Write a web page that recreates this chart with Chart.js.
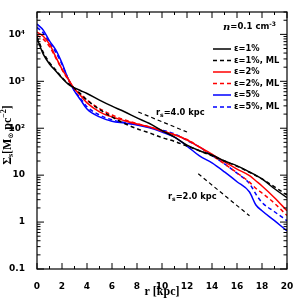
<!DOCTYPE html>
<html><head><meta charset="utf-8">
<script src="https://cdn.jsdelivr.net/npm/chart.js@4/dist/chart.umd.min.js"></script>
<style>html,body{margin:0;padding:0;background:#fff;}canvas{display:block;}</style>
</head><body>
<canvas id="c" width="299" height="299"></canvas>
<script>
// radius grid [kpc]
const rKpc = [0,0.5,1,1.5,2,2.5,3,3.5,4,5,6,7,8,9,10,11,12,13,14,15,16,17,17.5,18,19,20];
// surface density [Msun pc^-2]
const sigmaEps1    = [8300,3800,2340,1660,1175,871,724,631,550,398,295,224,166,126,89.1,64.6,43.6,33.1,26.9,20.0,15.8,11.7,10.0,8.32,5.13,3.31];
const sigmaEps1ML  = [8900,4170,2510,1740,1200,891,708,537,398,251,174,126,97.7,79.4,63.1,52.5,41.7,33.1,25.7,20.0,15.5,11.5,9.77,8.32,5.62,3.80];
const sigmaEps2    = [11200,9120,6170,3310,1820,1120,692,490,347,224,174,145,123,107,87.1,72.4,56.2,39.8,28.2,19.1,13.5,9.77,7.59,5.89,3.31,1.74];
const sigmaEps2ML  = [9550,7940,5500,3160,1780,1070,692,525,398,263,191,151,126,107,89.1,72.4,57.5,39.8,26.3,17.4,11.2,7.08,5.25,4.17,2.51,1.38];
const sigmaEps5    = [16600,12300,7240,4680,2450,1120,617,398,257,174,141,129,117,102,83.2,64.6,41.7,25.7,18.2,11.7,7.24,4.37,2.34,1.74,1.07,0.65];
const sigmaEps5ML  = [14100,10700,6610,4170,2290,1120,631,427,288,191,151,132,120,105,91.2,75.9,55.0,39.8,26.3,17.4,11.0,6.61,3.98,2.63,1.66,1.07];
// exponential guide lines
const rs4R = [8.1, 12.0];
const rs4Sigma = [222, 83];
const rs2R = [12.9, 17.0];
const rs2Sigma = [10.7, 1.36];
// ticks
const yTickValues = [0.1, 1, 10, 100, 1000, 10000];
const yTickLabels = ['0.1', '1', '10', '10²', '10³', '10⁴'];
const seriesLabels = ['ε=1%', 'ε=1%, ML', 'ε=2%', 'ε=2%, ML', 'ε=5%', 'ε=5%, ML'];

const pts = (xs, ys) => xs.map((x, i) => ({x: x, y: ys[i]}));
const DASH = [4, 3];
function ser(label, arr, color, dashed) {
  return {label: label, data: pts(rKpc, arr), borderColor: color, backgroundColor: color,
    borderWidth: 1.5, borderDash: dashed ? DASH : [], pointRadius: 0, fill: false,
    cubicInterpolationMode: 'monotone', isSeries: true};
}
const datasets = [
  ser(seriesLabels[0], sigmaEps1, '#000000', false),
  ser(seriesLabels[1], sigmaEps1ML, '#000000', true),
  ser(seriesLabels[2], sigmaEps2, '#ff0000', false),
  ser(seriesLabels[3], sigmaEps2ML, '#ff0000', true),
  ser(seriesLabels[4], sigmaEps5, '#0000ff', false),
  ser(seriesLabels[5], sigmaEps5ML, '#0000ff', true),
  {label: 'rs4', data: pts(rs4R, rs4Sigma), borderColor: '#000', borderWidth: 1.2, borderDash: [4, 3], pointRadius: 0},
  {label: 'rs2', data: pts(rs2R, rs2Sigma), borderColor: '#000', borderWidth: 1.2, borderDash: [4, 3], pointRadius: 0}
];

function drawRuns(ctx, runs, x, y) {
  let total = 0;
  runs.forEach(r => { ctx.font = r.font; r.w = ctx.measureText(r.t).width; total += r.w; });
  let cx = x - total / 2;
  ctx.textBaseline = 'middle'; ctx.textAlign = 'left';
  runs.forEach(r => { ctx.font = r.font; ctx.fillText(r.t, cx, y + (r.dy || 0)); cx += r.w; });
}
function drawRunsLeft(ctx, runs, x, y) {
  let cx = x;
  ctx.textBaseline = 'middle'; ctx.textAlign = 'left';
  runs.forEach(r => { ctx.font = r.font; ctx.fillText(r.t, cx, y + (r.dy || 0)); cx += ctx.measureText(r.t).width; });
}

const decor = {
  id: 'decor',
  afterDraw(chart) {
    const ctx = chart.ctx, a = chart.chartArea;
    const xs = chart.scales.x, ys = chart.scales.y;
    ctx.save();
    ctx.strokeStyle = '#000'; ctx.fillStyle = '#000'; ctx.lineWidth = 1.2; ctx.setLineDash([]);
    ctx.strokeRect(a.left, a.top, a.right - a.left, a.bottom - a.top);
    ctx.lineWidth = 1;
    ctx.beginPath();
    for (let r = 0; r <= 20; r += 1) {
      const px = xs.getPixelForValue(r);
      const L = (r % 2 === 0) ? 6 : 3;
      ctx.moveTo(px, a.bottom); ctx.lineTo(px, a.bottom - L);
      ctx.moveTo(px, a.top); ctx.lineTo(px, a.top + L);
    }
    for (let e = -1; e <= 4; e++) {
      for (let m = 1; m <= 9; m++) {
        const v = m * Math.pow(10, e);
        if (v < 0.1 || v > 30000) continue;
        const py = ys.getPixelForValue(v);
        const L = (m === 1) ? 7 : 3.5;
        ctx.moveTo(a.left, py); ctx.lineTo(a.left + L, py);
        ctx.moveTo(a.right, py); ctx.lineTo(a.right - L, py);
      }
    }
    ctx.stroke();

    // legend
    const lf = 'bold 8.3px "DejaVu Sans"';
    drawRunsLeft(ctx, [
      {t: 'n', font: 'italic bold 10px "DejaVu Serif"'},
      {t: '=0.1 cm', font: 'bold 8.5px "DejaVu Sans"'},
      {t: '-3', font: 'bold 6px "DejaVu Sans"', dy: -3}
    ], 223, 27);
    const rowY = [49, 60.5, 72, 83.5, 95, 107];
    chart.data.datasets.filter(d => d.isSeries).forEach((d, i) => {
      ctx.strokeStyle = d.borderColor; ctx.lineWidth = 1.5;
      ctx.setLineDash(d.borderDash);
      ctx.beginPath(); ctx.moveTo(213, rowY[i]); ctx.lineTo(231, rowY[i]); ctx.stroke();
      ctx.setLineDash([]);
      ctx.fillStyle = '#000'; ctx.font = lf; ctx.textBaseline = 'middle'; ctx.textAlign = 'left';
      ctx.fillText(d.label, 234, rowY[i]);
    });

    // guide-line labels
    const af = 'bold 8.3px "DejaVu Sans"', sf = 'bold 6px "DejaVu Sans"';
    drawRunsLeft(ctx, [{t: 'r', font: af}, {t: 's', font: sf, dy: 2}, {t: '=4.0 kpc', font: af}], 156, 113);
    drawRunsLeft(ctx, [{t: 'r', font: af}, {t: 's', font: sf, dy: 2}, {t: '=2.0 kpc', font: af}], 168, 197);

    // axis titles
    ctx.fillStyle = '#000';
    drawRuns(ctx, [{t: 'r [kpc]', font: 'bold 12px "Liberation Serif"'}], (a.left + a.right) / 2, 292);
    ctx.save();
    ctx.translate(8, 135); ctx.rotate(-Math.PI / 2);
    const tf = 'bold 12px "Liberation Serif"', tsf = 'bold 8px "Liberation Serif"';
    drawRuns(ctx, [
      {t: 'Σ', font: tf}, {t: 's', font: tsf, dy: 3}, {t: '[M', font: tf}, {t: '⊙', font: 'bold 7px "DejaVu Sans"', dy: 3},
      {t: ' pc', font: tf}, {t: '−2', font: tsf, dy: -4}, {t: ']', font: tf}
    ], 0, 0);
    ctx.restore();
    ctx.restore();
  }
};

new Chart(document.getElementById('c'), {
  type: 'line',
  data: {datasets: datasets},
  options: {
    responsive: false, animation: false, devicePixelRatio: 1,
    layout: {padding: {top: 12, right: 12, left: 0, bottom: 0}},
    plugins: {legend: {display: false}, tooltip: {enabled: false}},
    elements: {line: {borderCapStyle: 'butt'}},
    scales: {
      x: {type: 'linear', min: 0, max: 20,
        ticks: {stepSize: 2, color: '#000', font: {family: 'DejaVu Sans', weight: 'bold', size: 9}, padding: 4, maxRotation: 0},
        grid: {display: false}, border: {display: false},
        afterFit: s => { s.height = 30; }},
      y: {type: 'logarithmic', min: 0.1, max: 30000,
        afterBuildTicks: s => { s.ticks = yTickValues.map(v => ({value: v})); },
        ticks: {color: '#000', font: {family: 'DejaVu Sans', weight: 'bold', size: 9}, padding: 4,
          callback: (v) => { const i = yTickValues.indexOf(v); return i >= 0 ? yTickLabels[i] : ''; }},
        grid: {display: false}, border: {display: false},
        afterFit: s => { s.width = 37; }}
    }
  },
  plugins: [decor]
});
</script>
</body></html>
